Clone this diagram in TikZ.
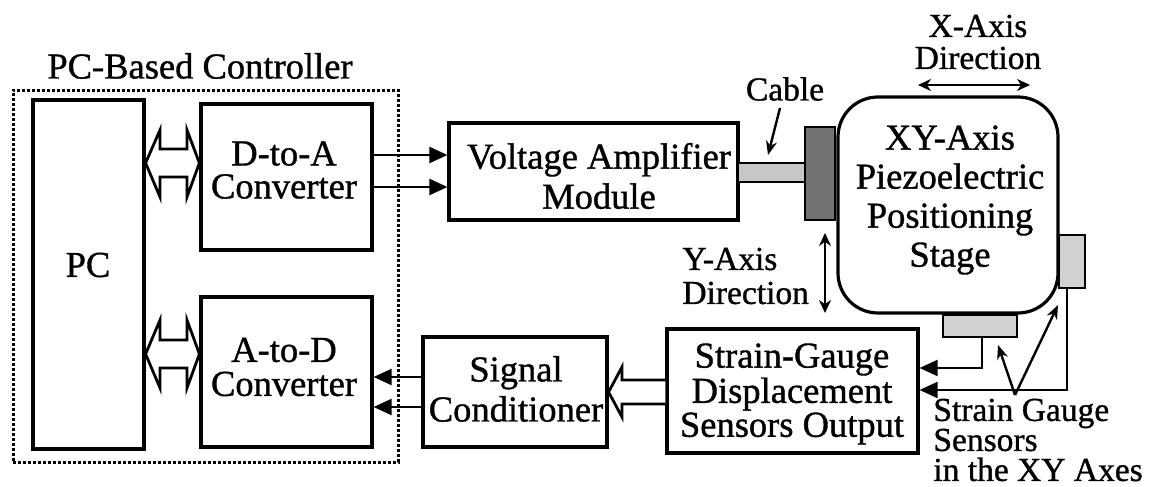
\documentclass[tikz,border=0pt]{standalone}
\usepackage{fontspec}
\setmainfont{Liberation Serif}[FakeBold=1]
\usetikzlibrary{arrows.meta,fit}
\begin{document}
\begin{tikzpicture}[x=0.5pt,y=-0.5pt,
  box/.style={draw, line width=1.6pt, inner sep=0pt},
  bt/.style={font=\fontsize{18.25}{17}\selectfont, align=center, inner sep=0pt},
  lt/.style={font=\fontsize{16.75}{16}\selectfont, inner sep=0pt},
  sig/.style={line width=1.1pt, -{Triangle[length=9pt,width=8pt]}},
  dbl/.style={line width=1.3pt, {Stealth[length=6.5pt,width=6pt]}-{Stealth[length=6.5pt,width=6pt]}},
  pnt/.style={line width=1.2pt, -{Stealth[length=7pt,width=5.5pt]}},
  hol/.style={line width=1.4pt, fill=white, line join=miter},
]
\useasboundingbox (0,0) rectangle (1153,487);

% controller frame
\node[draw, line width=1.5pt, dash pattern=on 1.4pt off 1.1pt, inner sep=0pt, fit={(13,90) (398,462)}] (ctrl) {};
\node[bt] (ctitle) at (200,66) {PC-Based Controller};

% boxes
\node[box, fit={(33,100) (144,449)}] (pc) {};
\node[bt] (pct) at (88,265) {PC};
\node[box, fit={(201,104) (372,250)}] (da) {};
\node[bt, font=\fontsize{18.25}{16.5}\selectfont] (dat) at (284,170) {D-to-A\\Converter};
\node[box, fit={(201,297) (372,447)}] (ad) {};
\node[bt] (adt) at (284,367) {A-to-D\\Converter};
\node[box, fit={(449,123) (738,220)}] (va) {};
\node[bt, font=\fontsize{18.25}{20}\selectfont] (vat) at (599,176) {Voltage Amplifier\\Module};
\node[box, fit={(423,337) (607,447)}] (sc) {};
\node[bt, font=\fontsize{18.25}{20}\selectfont] (sct) at (516,389) {Signal\\Conditioner};
\node[box, fit={(667,329) (918,453)}] (sg) {};
\node[bt, font=\fontsize{18.25}{15.5}\selectfont] (sgt) at (792,394) {Strain-Gauge\\Displacement\\Sensors Output};

% stage
\node[draw, line width=1.6pt, rounded corners=20pt, inner sep=0pt, fit={(838,97) (1058,313)}] (stage) {};
\node[bt, font=\fontsize{18.25}{19.5}\selectfont] (staget) at (950,200) {XY-Axis\\Piezoelectric\\Positioning\\Stage};
\node[draw, line width=1.4pt, fill=black!55, inner sep=0pt, fit={(805,127) (835,220)}] (act) {};
\node[draw, line width=1.2pt, fill=black!22, inner sep=0pt, fit={(738,163) (805,182)}] (cable) {};
\node[draw, line width=1.4pt, fill=black!18, inner sep=0pt, fit={(1059,235) (1085,288)}] (rs) {};
\node[draw, line width=1.4pt, fill=black!18, inner sep=0pt, fit={(943,315) (1017,337)}] (bs) {};

% labels
\node[lt] (cabt) at (785,89) {Cable};
\coordinate (cabs) at (780,108);
\coordinate (cabe) at (768,155);
\draw[pnt] (cabs) -- (cabe);
\node[lt, align=center, font=\fontsize{16.75}{16}\selectfont] (xt) at (978,42) {X-Axis\\Direction};
\coordinate (xa) at (918,85);
\coordinate (xb) at (1030,85);
\draw[dbl] (xa) -- (xb);
\node[lt, align=left, anchor=west, font=\fontsize{16.75}{17}\selectfont] (yt) at (682,276) {Y-Axis\\Direction};
\coordinate (ya) at (825,233);
\coordinate (yb) at (825,313);
\draw[dbl] (ya) -- (yb);
\node[lt, align=left, anchor=west, font=\fontsize{16.75}{15}\selectfont] (sgl) at (933,440) {Strain Gauge\\Sensors\\in the XY Axes};
\coordinate (sgp) at (1015,395);
\coordinate (sgb) at (998,345);
\coordinate (sgr) at (1058,305);
\draw[pnt] (sgp) -- (sgb);
\draw[pnt] (sgp) -- (sgr);

% signal connectors
\draw[sig] (da.east |- 0,155) -- (va.west |- 0,155);
\draw[sig] (da.east |- 0,187) -- (va.west |- 0,187);
\draw[sig] (sc.west |- 0,377) -- (ad.east |- 0,377);
\draw[sig] (sc.west |- 0,407) -- (ad.east |- 0,407);
\draw[sig] (bs.south -| 982,0) |- (sg.east |- 0,368);
\draw[sig] (rs.south -| 1067,0) |- (sg.east |- 0,390);

% hollow bus arrows
\draw[hol] (pc.east |- 0,163) -- (160,130) -- (160,149) -- (187,149) -- (187,130) -- (da.west |- 0,163) -- (187,197) -- (187,177) -- (160,177) -- (160,197) -- cycle;
\draw[hol] (pc.east |- 0,354) -- (160,320) -- (160,340) -- (187,340) -- (187,320) -- (ad.west |- 0,354) -- (187,388) -- (187,368) -- (160,368) -- (160,388) -- cycle;
\draw[hol] (sg.west |- 0,380) -- (622,380) -- (622,367) -- (sc.east |- 0,392) -- (622,417) -- (622,404) -- (sg.west |- 0,404);
\end{tikzpicture}
\end{document}
